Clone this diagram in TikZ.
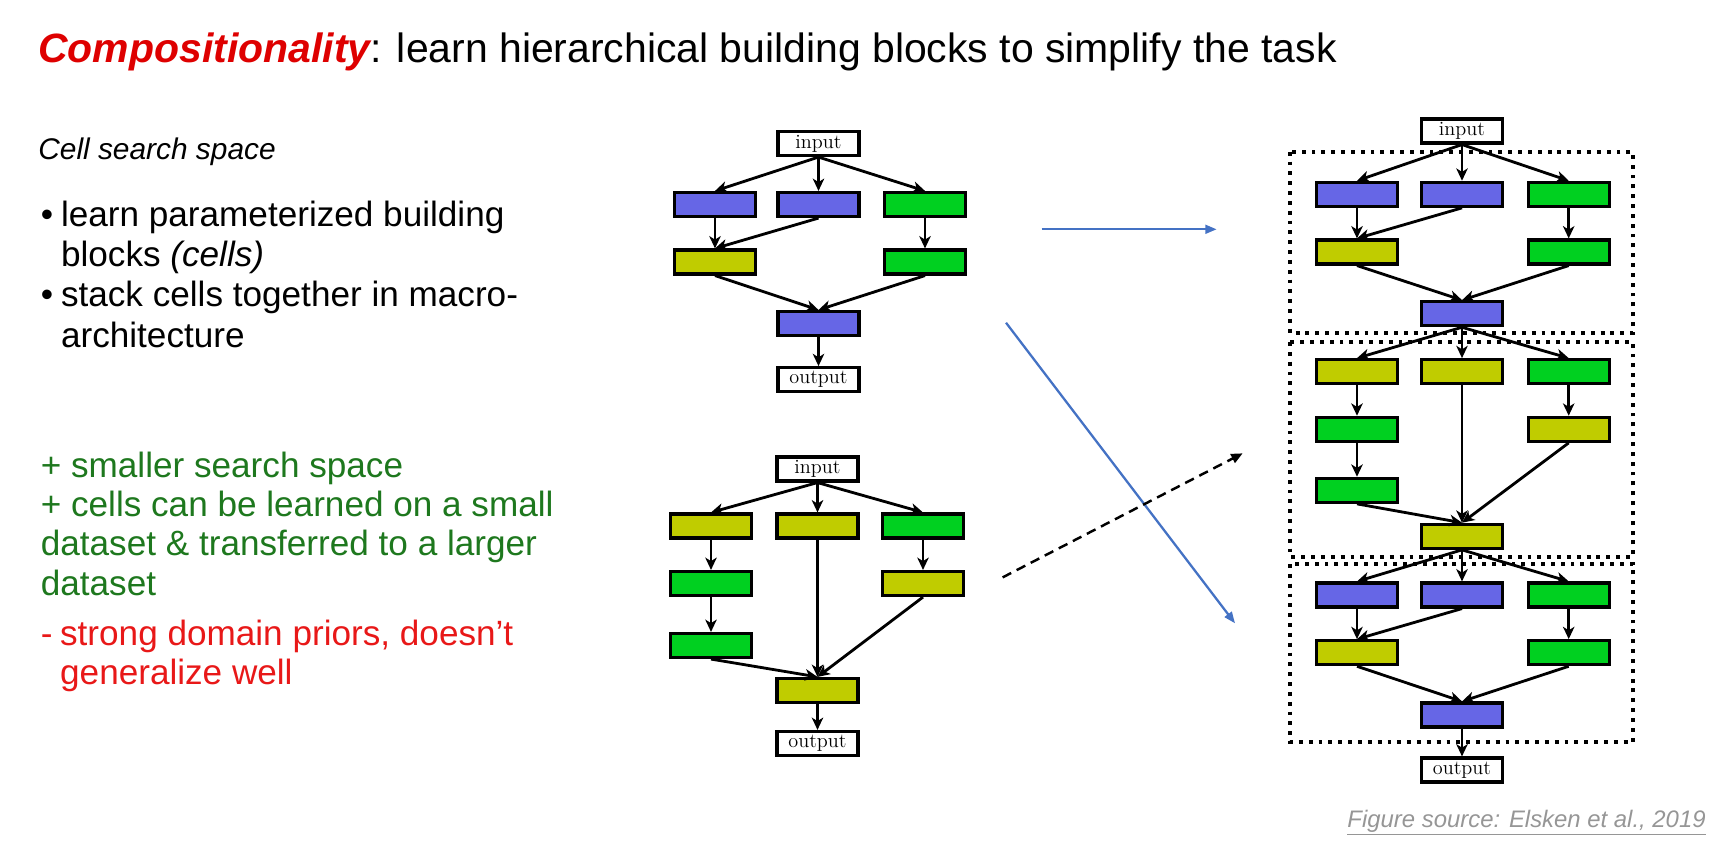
\documentclass[tikz,border=0pt]{standalone}
\usepackage{fontspec}
\setsansfont{Liberation Sans}
\usetikzlibrary{arrows.meta}
\definecolor{cellblue}{RGB}{102,102,230}
\definecolor{cellolive}{RGB}{192,204,0}
\definecolor{cellgreen}{RGB}{0,208,32}
\definecolor{titlered}{RGB}{222,0,0}
\definecolor{prosgreen}{RGB}{30,120,30}
\definecolor{consred}{RGB}{232,24,24}
\definecolor{linkblue}{RGB}{68,114,196}
\definecolor{footgray}{RGB}{150,150,150}
\tikzstyle{cell}=[draw=black,line width=1.8pt,minimum width=1.62cm,minimum height=0.48cm,inner sep=0pt]
\tikzstyle{iobox}=[cell,fill=white,font=\fontsize{11.5}{13}\selectfont\rmfamily]
\tikzstyle{bcell}=[cell,fill=cellblue]
\tikzstyle{ycell}=[cell,fill=cellolive]
\tikzstyle{gcell}=[cell,fill=cellgreen]
\tikzstyle{edge}=[line width=1.6pt,-{Stealth[length=7pt,width=6.5pt,inset=2pt]}]
\tikzstyle{txt}=[anchor=base west,inner sep=0pt]
\tikzstyle{frame}=[line width=2.2pt,dash pattern=on 2.2pt off 3.4pt]
\tikzstyle{link}=[linkblue,line width=1.3pt,-{Triangle[length=6.5pt,width=5pt]}]

\begin{document}
\begin{tikzpicture}[x=0.02cm,y=-0.02cm]
	\useasboundingbox (0,0) rectangle (1718,842);

	% text on the left
	\node[txt,font={\fontsize{23.3}{27}\selectfont\sffamily}] (title) at (38,62)
		{{\color{titlered}\bfseries\itshape Compositionality}: learn hierarchical building blocks to simplify the task};
	\node[txt,font={\fontsize{17}{20}\selectfont\sffamily\itshape}] (space) at (38,159) {Cell search space};
	\node[txt,font={\fontsize{20}{23}\selectfont\sffamily}] (idea) at (40.5,226)
		{\begin{tabular}[t]{@{}l@{}l@{}}
		\makebox[11.5pt][l]{•} & learn parameterized building\\
		 & blocks \textit{(cells)}\\
		\makebox[11.5pt][l]{•} & stack cells together in macro-\\
		 & architecture
		\end{tabular}};
	\node[txt,text=prosgreen,font={\fontsize{20}{22.4}\selectfont\sffamily}] (pros) at (40.5,477)
		{\begin{tabular}[t]{@{}l@{}}
		+ smaller search space\\
		+ cells can be learned on a small\\
		dataset \& transferred to a larger\\
		dataset
		\end{tabular}};
	\node[txt,text=consred,font={\fontsize{20}{22.4}\selectfont\sffamily}] (cons) at (40.5,645)
		{\begin{tabular}[t]{@{}l@{}l@{}}
		\makebox[11pt][l]{-} & strong domain priors, doesn’t\\
		 & generalize well
		\end{tabular}};
	\node[txt,anchor=base east,text=footgray,font={\fontsize{13.6}{15}\selectfont\sffamily\itshape}] (source) at (1706,827)
		{\underline{Figure source: Elsken et al., 2019}};

	% normal cell
	\node[iobox] (ni) at (818.5,143.5) {input};
	\node[bcell] (n1l) at (715,204.5) {};
	\node[bcell] (n1m) at (818.5,204.5) {};
	\node[gcell] (n1r) at (925,204.5) {};
	\node[ycell] (n2l) at (715,262) {};
	\node[gcell] (n2r) at (925,262) {};
	\node[bcell] (nc) at (818.5,323.5) {};
	\node[iobox] (no) at (818.5,379.7) {output};
	\foreach \a/\b in {ni/n1l,ni/n1m,ni/n1r,n1l/n2l,n1m/n2l,n1r/n2r,n2l/nc,n2r/nc,nc/no}
		\draw[edge] (\a.south) -- (\b.north);

	% reduction cell
	\node[iobox] (ri) at (817.5,469) {input};
	\node[ycell] (r1l) at (711,526) {};
	\node[ycell] (r1m) at (817.5,526) {};
	\node[gcell] (r1r) at (923,526) {};
	\node[gcell] (r2l) at (711,583.5) {};
	\node[ycell] (r2r) at (923,583.5) {};
	\node[gcell] (r3l) at (711,645.5) {};
	\node[ycell] (rc) at (817.5,690.5) {};
	\node[iobox] (ro) at (817.5,743.5) {output};
	\foreach \a/\b in {ri/r1l,ri/r1m,ri/r1r,r1l/r2l,r2l/r3l,r1r/r2r,r3l/rc,r1m/rc,r2r/rc,rc/ro}
		\draw[edge] (\a.south) -- (\b.north);

	% macro architecture
	\draw[frame] (1290,151.7) rectangle (1633,333);
	\draw[frame] (1290,342) rectangle (1633,557);
	\draw[frame] (1290,564) rectangle (1633,742);
	\node[iobox] (mi) at (1462,131) {input};
	\node[bcell] (a1l) at (1357,194.3) {};
	\node[bcell] (a1m) at (1462,194.3) {};
	\node[gcell] (a1r) at (1568.7,194.3) {};
	\node[ycell] (a2l) at (1357,252) {};
	\node[gcell] (a2r) at (1568.7,252) {};
	\node[bcell] (ac) at (1462,313.7) {};
	\node[ycell] (b1l) at (1357,371.7) {};
	\node[ycell] (b1m) at (1462,371.7) {};
	\node[gcell] (b1r) at (1568.7,371.7) {};
	\node[gcell] (b2l) at (1357,429.3) {};
	\node[ycell] (b2r) at (1568.7,429.3) {};
	\node[gcell] (b3l) at (1357,490.3) {};
	\node[ycell] (bc) at (1462,536.3) {};
	\node[bcell] (c1l) at (1357,595) {};
	\node[bcell] (c1m) at (1462,595) {};
	\node[gcell] (c1r) at (1568.7,595) {};
	\node[ycell] (c2l) at (1357,652.7) {};
	\node[gcell] (c2r) at (1568.7,652.7) {};
	\node[bcell] (cc) at (1462,715) {};
	\node[iobox] (mo) at (1462,770) {output};
	\foreach \a/\b in {mi/a1l,mi/a1m,mi/a1r,a1l/a2l,a1m/a2l,a1r/a2r,a2l/ac,a2r/ac,
		ac/b1l,ac/b1m,ac/b1r,b1l/b2l,b2l/b3l,b1r/b2r,b3l/bc,b1m/bc,b2r/bc,
		bc/c1l,bc/c1m,bc/c1r,c1l/c2l,c1m/c2l,c1r/c2r,c2l/cc,c2r/cc,cc/mo}
		\draw[edge] (\a.south) -- (\b.north);

	% links between the cells and the macro architecture
	\coordinate (p1) at (1041.7,229.3);
	\coordinate (q1) at (1216.7,229.3);
	\coordinate (p2) at (1006,322.7);
	\coordinate (q2) at (1235,623.3);
	\coordinate (p3) at (1002.6,577.4);
	\coordinate (q3) at (1242.7,453.3);
	\draw[link] (p1) -- (q1);
	\draw[link] (p2) -- (q2);
	\draw[line width=1.4pt,dash pattern=on 5.5pt off 3.5pt,-{Triangle[length=6.5pt,width=5.5pt]}] (p3) -- (q3);
\end{tikzpicture}
\end{document}
